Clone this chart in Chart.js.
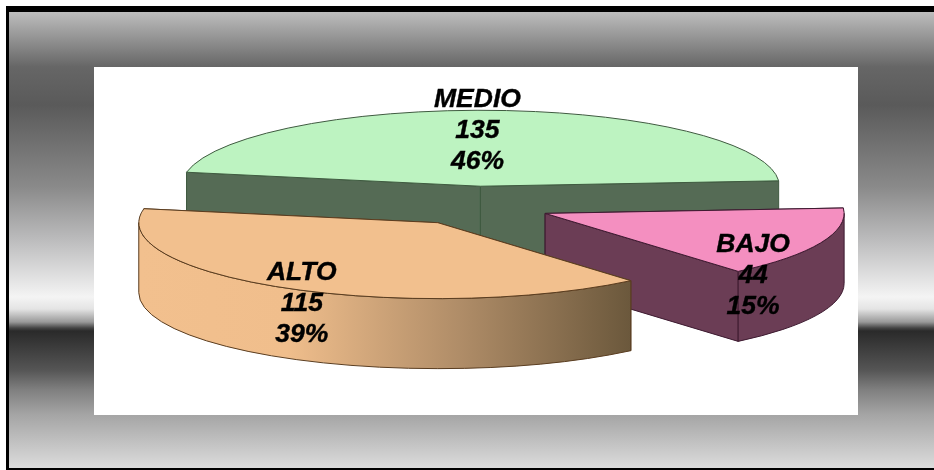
<!DOCTYPE html>
<html>
<head>
<meta charset="utf-8">
<title>MEDIO BAJO ALTO</title>
<script src="https://cdn.jsdelivr.net/npm/chart.js@4"></script>
<style>
    html, body { margin: 0; padding: 0; background: #fff; overflow: hidden; }
    #frame {
        position: absolute; left: 6px; top: 6px; width: 928px; height: 464px;
        box-sizing: border-box;
        border-top: 6px solid #000; border-left: 3px solid #000; border-bottom: 2px solid #000;
        background: linear-gradient( to bottom,
            #bdbdbd 0px, #666 55px, #5a5a5a 93px, #8a8a8a 175px, #bcbcbd 228px,
            #f4f4f4 285px, #e4e4e4 297px, #999 310px, #444 316px, #2a2a2a 319px, #555 358px,
            #808080 378px, #a5a5a5 403px, #dcdcdc 456px );
    }
    #plot { position: absolute; left: 94px; top: 67px; width: 764px; height: 348px; background: #fff; }
    #pie-chart { position: absolute; left: 0; top: 0; }
</style>
</head>
<body>
<div id="frame"></div>
<div id="plot"></div>
<canvas id="pie-chart" width="934" height="470"></canvas>
<script>
// DATA
// ---------------------------------------------------
const categories = [ 'MEDIO', 'BAJO', 'ALTO' ];
const values = [ 135, 44, 115 ];

// COLOURS
// ---------------------------------------------------
const topColors = [ '#bdf3c1', '#f48fc0', '#f2c08e' ];
const wallColors = [ '#556b55', '#6b3d55', '#f2c08e' ];
const edgeColors = [ '#3f5a40', '#3d1a30', '#5a3d20' ];

// 3D VIEW OF THE PIE
// ---------------------------------------------------
const pieCenter = { x: 476, y: 206 };
const flatten = 0.254;
const depth = 70;
const explode = [ 78, 75, 76 ];
const labelShift = [ [ -3, -56 ], [ 208, 62 ], [ -136, 81 ] ];
const lineGap = 31;

const pie3d = {
    id: 'pie3d',
    beforeDatasetDraw( chart, args ) {
        const ctx = chart.ctx;
        const total = values.reduce( ( a, b ) => a + b, 0 );
        args.meta.data.forEach( function ( arc, i ) {
            const r = arc.outerRadius;
            const mid = ( arc.startAngle + arc.endAngle ) / 2;
            const cx = pieCenter.x + Math.cos( mid ) * explode[ i ];
            const cy = pieCenter.y + Math.sin( mid ) * explode[ i ] * flatten;
            const rest = function ( a ) {
                return [ cx + Math.cos( a ) * r, cy + Math.sin( a ) * r * flatten ];
            };
            let fill = wallColors[ i ];
            if ( categories[ i ] === 'ALTO' ) {
                fill = ctx.createLinearGradient( cx - r, 0, cx + Math.cos( arc.startAngle ) * r, 0 );
                fill.addColorStop( 0, '#f2c08e' );
                fill.addColorStop( 0.3, '#f0be8c' );
                fill.addColorStop( 0.65, '#b08d68' );
                fill.addColorStop( 1, '#6b583c' );
            }
            ctx.save();
            ctx.fillStyle = fill;
            ctx.strokeStyle = edgeColors[ i ];
            ctx.lineWidth = 1;
            // RADIAL FACES
            [ arc.startAngle, arc.endAngle ].forEach( function ( a ) {
                const p = rest( a );
                ctx.beginPath();
                ctx.moveTo( cx, cy );
                ctx.lineTo( p[ 0 ], p[ 1 ] );
                ctx.lineTo( p[ 0 ], p[ 1 ] + depth );
                ctx.lineTo( cx, cy + depth );
                ctx.closePath();
                ctx.fill();
                ctx.stroke();
            } );
            // CURVED WALL, ONLY THE FRONT HALF
            const a0 = Math.max( arc.startAngle, 0 );
            const a1 = Math.min( arc.endAngle, Math.PI );
            if ( a1 > a0 ) {
                ctx.beginPath();
                ctx.ellipse( cx, cy, r, r * flatten, 0, a0, a1 );
                ctx.ellipse( cx, cy + depth, r, r * flatten, 0, a1, a0, true );
                ctx.closePath();
                ctx.fill();
                ctx.stroke();
            }
            // TOP FACE
            ctx.save();
            ctx.translate( cx, cy );
            ctx.scale( 1, flatten );
            ctx.translate( -arc.x, -arc.y );
            arc.draw( ctx );
            ctx.restore();
            ctx.beginPath();
            ctx.moveTo( cx, cy );
            ctx.ellipse( cx, cy, r, r * flatten, 0, arc.startAngle, arc.endAngle );
            ctx.closePath();
            ctx.stroke();
            ctx.restore();
        } );
        // LABELS
        ctx.save();
        ctx.font = 'italic bold 26.5px "Liberation Sans", Arial, sans-serif';
        ctx.textAlign = 'center';
        ctx.textBaseline = 'middle';
        ctx.fillStyle = '#000';
        ctx.strokeStyle = '#000';
        ctx.lineWidth = 0.4;
        args.meta.data.forEach( function ( arc, i ) {
            const mid = ( arc.startAngle + arc.endAngle ) / 2;
            const lx = pieCenter.x + Math.cos( mid ) * explode[ i ] + labelShift[ i ][ 0 ];
            const ly = pieCenter.y + Math.sin( mid ) * explode[ i ] * flatten + labelShift[ i ][ 1 ];
            const lines = [ categories[ i ], values[ i ], Math.round( values[ i ] / total * 100 ) + '%' ];
            lines.forEach( function ( text, n ) {
                ctx.fillText( text, lx, ly + ( n - 1 ) * lineGap );
                ctx.strokeText( text, lx, ly + ( n - 1 ) * lineGap );
            } );
        } );
        ctx.restore();
        return false;
    }
};

// PIE CHART
// -------------------------------------------------------
window.addEventListener( 'load', function () {
    const pieChart = new Chart( document.querySelector( '#pie-chart' ), {
        type: 'pie',
        data: {
            labels: categories,
            datasets: [ { data: values, backgroundColor: topColors, borderWidth: 0 } ]
        },
        options: {
            responsive: false,
            animation: false,
            radius: 299,
            rotation: -79.4,
            plugins: { legend: { display: false }, tooltip: { enabled: false } }
        },
        plugins: [ pie3d ]
    } );
}, false );
</script>
</body>
</html>
